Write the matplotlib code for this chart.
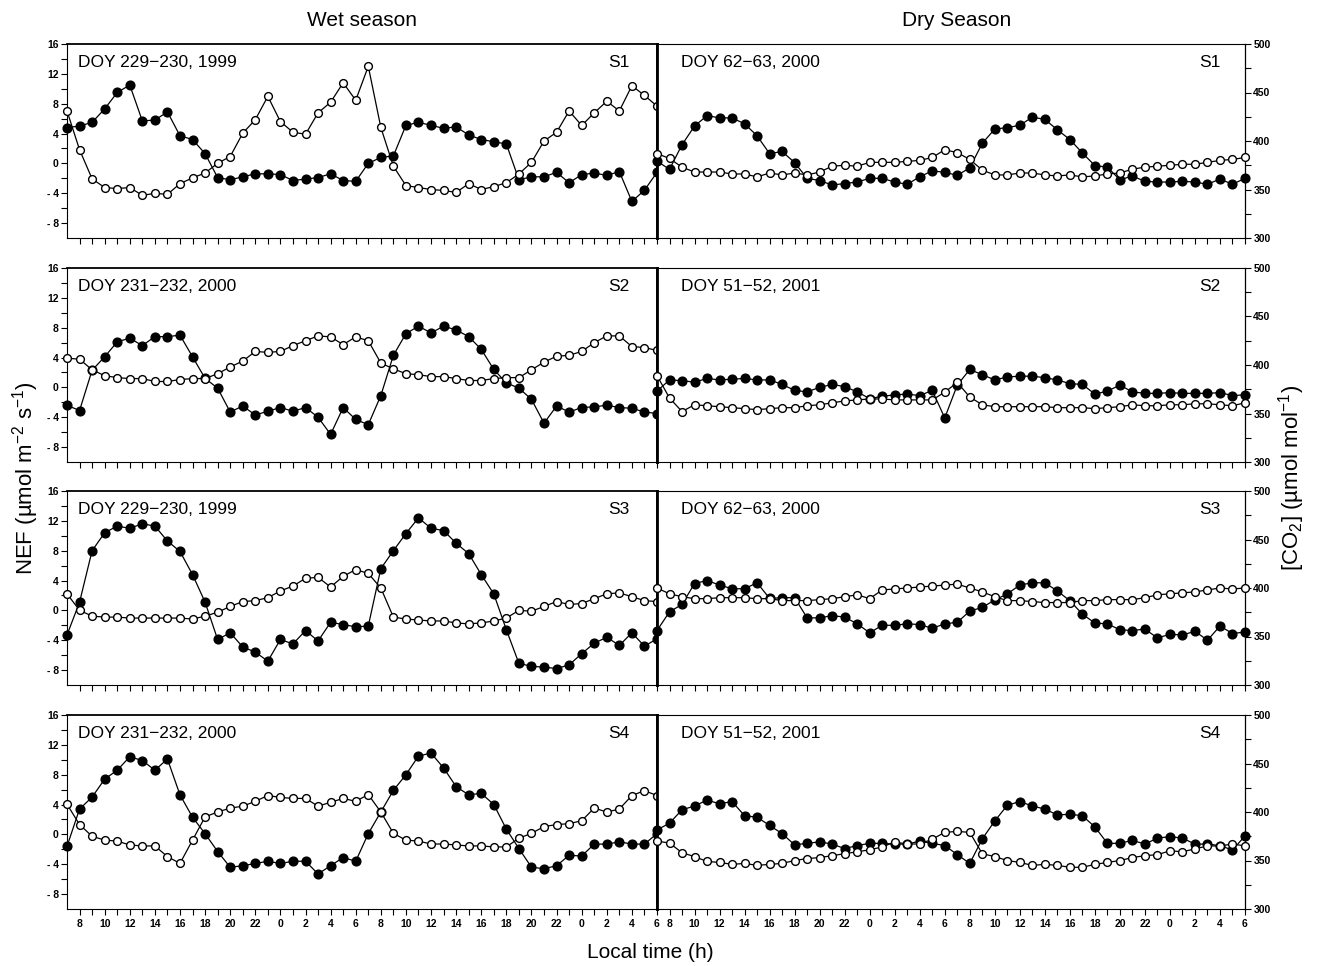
import numpy as np
import matplotlib
matplotlib.use("Agg")
import matplotlib.pyplot as plt
from matplotlib.ticker import FixedLocator, FuncFormatter

plt.rcParams['font.family'] = ['Liberation Sans', 'DejaVu Sans']
plt.rcParams['mathtext.fontset'] = 'custom'
plt.rcParams['mathtext.rm'] = 'Liberation Sans'
plt.rcParams['mathtext.it'] = 'Liberation Sans:italic'

# hourly values, local time 07:00 day 1 .. 06:00 day 3 (hour 7..54)
hours = np.arange(7, 55)

# ---------------------------------------------------------------------------
# data: filled = NEF (umol m-2 s-1), open = [CO2] (umol mol-1)
# ---------------------------------------------------------------------------
wet_nef_s1 = [4.8, 5.0, 5.5, 7.3, 9.5, 10.5, 5.7, 5.8, 6.9, 3.7, 3.2, 1.3, -1.9, -2.2, -1.8, -1.4,
              -1.4, -1.5, -2.3, -2.1, -1.9, -1.4, -2.3, -2.4, 0.0, 0.8, 1.0, 5.1, 5.5, 5.1, 4.7, 4.9,
              3.8, 3.2, 2.9, 2.6, -2.2, -1.8, -1.8, -1.2, -2.6, -1.5, -1.3, -1.6, -1.1, -5.1, -3.6, -1.2]
wet_co2_s1 = [431, 391, 361, 352, 351, 352, 344, 346, 345, 356, 362, 367, 377, 384, 408, 422,
              446, 420, 409, 407, 429, 440, 460, 442, 477, 414, 374, 354, 352, 350, 349, 347,
              356, 350, 353, 357, 366, 378, 400, 409, 431, 416, 429, 441, 431, 457, 447, 436]
dry_nef_s1 = [0.3, -0.8, 2.5, 5.0, 6.4, 6.1, 6.1, 5.3, 3.7, 1.3, 1.6, 0.1, -2.0, -2.3, -2.9, -2.7,
              -2.5, -2.0, -2.0, -2.5, -2.8, -1.8, -1.0, -1.2, -1.6, -0.6, 2.7, 4.6, 4.8, 5.1, 6.2, 5.9,
              4.5, 3.2, 1.4, -0.3, -0.5, -2.2, -1.7, -2.4, -2.5, -2.5, -2.4, -2.5, -2.8, -2.1, -2.8, -2.0]
dry_co2_s1 = [387, 382, 373, 368, 368, 368, 366, 366, 363, 367, 365, 367, 365, 368, 374, 375,
              374, 378, 378, 378, 379, 380, 383, 391, 388, 381, 370, 365, 365, 367, 367, 365,
              364, 365, 363, 364, 366, 367, 371, 373, 374, 375, 376, 376, 378, 380, 381, 383]

wet_nef_s2 = [-2.4, -3.1, 2.3, 4.1, 6.1, 6.6, 5.6, 6.8, 6.8, 7.0, 4.1, 1.2, -0.1, -3.3, -2.5, -3.7,
              -3.2, -2.7, -3.2, -2.7, -4.0, -6.3, -2.7, -4.3, -5.0, -1.1, 4.3, 7.2, 8.2, 7.3, 8.2, 7.7,
              6.8, 5.1, 2.4, 0.6, -0.1, -1.6, -4.8, -2.5, -3.3, -2.7, -2.6, -2.4, -2.7, -2.8, -3.3, -3.5]
wet_co2_s2 = [407, 406, 395, 389, 387, 386, 386, 383, 383, 385, 386, 386, 391, 398, 404, 414,
              413, 414, 420, 425, 430, 429, 421, 429, 425, 402, 396, 391, 390, 388, 388, 386,
              384, 384, 386, 387, 387, 395, 403, 409, 410, 414, 423, 430, 430, 419, 418, 415]
dry_nef_s2 = [-0.5, 1.0, 0.9, 0.7, 1.2, 1.0, 1.1, 1.2, 1.0, 1.0, 0.4, -0.4, -0.6, 0.0, 0.4, 0.1,
              -0.6, -1.5, -1.2, -1.0, -0.9, -1.1, -0.4, -4.1, 0.3, 2.4, 1.7, 1.0, 1.4, 1.5, 1.5, 1.3,
              1.0, 0.5, 0.4, -0.9, -0.5, 0.3, -0.6, -0.8, -0.8, -0.7, -0.8, -0.8, -0.8, -0.7, -1.1, -1.0]
dry_co2_s2 = [389, 366, 352, 359, 358, 357, 356, 355, 354, 355, 356, 356, 358, 359, 361, 363,
              364, 365, 365, 364, 364, 364, 364, 372, 382, 367, 359, 357, 357, 357, 357, 357,
              356, 356, 356, 355, 356, 357, 359, 358, 358, 359, 359, 360, 360, 359, 358, 361]

wet_nef_s3 = [-3.3, 1.1, 8.0, 10.4, 11.3, 11.0, 11.6, 11.3, 9.3, 7.9, 4.8, 1.1, -3.9, -3.0, -4.9, -5.6,
              -6.8, -3.9, -4.5, -2.7, -4.1, -1.6, -1.9, -2.2, -2.1, 5.6, 8.0, 10.3, 12.4, 11.0, 10.7, 9.0,
              7.6, 4.8, 2.2, -2.6, -7.1, -7.5, -7.6, -7.8, -7.3, -5.8, -4.4, -3.6, -4.7, -3.0, -4.8, -3.8]
wet_co2_s3 = [394, 377, 371, 370, 370, 369, 369, 369, 369, 369, 368, 371, 375, 381, 386, 387,
              390, 397, 402, 410, 411, 401, 412, 419, 415, 400, 370, 368, 367, 366, 366, 364,
              363, 364, 366, 369, 377, 376, 381, 386, 383, 384, 389, 394, 395, 391, 387, 386]
dry_nef_s3 = [-2.7, -0.2, 0.8, 3.6, 4.0, 3.4, 2.9, 2.9, 3.7, 1.6, 1.7, 1.7, -1.0, -1.0, -0.7, -0.9,
              -1.8, -3.0, -2.0, -2.0, -1.8, -1.9, -2.4, -1.8, -1.6, -0.1, 0.4, 1.4, 2.2, 3.4, 3.7, 3.7,
              2.6, 1.3, -0.5, -1.7, -1.8, -2.6, -2.7, -2.5, -3.7, -3.2, -3.3, -2.8, -4.0, -2.1, -3.1, -2.9]
dry_co2_s3 = [400, 394, 391, 389, 389, 390, 390, 390, 389, 389, 387, 387, 387, 388, 389, 391,
              393, 389, 398, 399, 400, 401, 402, 403, 404, 400, 396, 391, 387, 387, 386, 385,
              385, 385, 387, 387, 388, 388, 388, 390, 393, 394, 395, 396, 398, 400, 399, 400]

wet_nef_s4 = [-1.6, 3.4, 5.0, 7.4, 8.6, 10.4, 9.9, 8.6, 10.1, 5.3, 2.3, 0.1, -2.3, -4.4, -4.2, -3.9,
              -3.6, -3.9, -3.6, -3.6, -5.3, -4.2, -3.1, -3.6, 0.1, 3.0, 5.9, 8.0, 10.5, 10.9, 8.9, 6.4,
              5.3, 5.5, 4.0, 0.7, -1.9, -4.4, -4.6, -4.2, -2.8, -2.9, -1.3, -1.3, -1.0, -1.3, -1.3, 0.1]
wet_co2_s4 = [408, 387, 375, 371, 370, 366, 365, 365, 354, 347, 371, 395, 400, 404, 406, 411,
              417, 415, 414, 414, 406, 410, 414, 411, 418, 400, 378, 371, 370, 367, 367, 366,
              365, 365, 364, 364, 373, 378, 385, 387, 388, 391, 404, 400, 403, 417, 422, 417]
dry_nef_s4 = [0.6, 1.5, 3.3, 3.8, 4.6, 4.1, 4.4, 2.5, 2.3, 1.2, 0.1, -1.4, -1.2, -1.0, -1.3, -1.9,
              -1.5, -1.2, -1.2, -1.3, -1.3, -0.9, -1.2, -1.5, -2.7, -3.9, -0.6, 1.8, 3.9, 4.4, 3.8, 3.4,
              2.6, 2.7, 2.5, 1.0, -1.2, -1.2, -0.8, -1.3, -0.5, -0.3, -0.5, -1.3, -1.3, -1.5, -2.1, -0.2]
dry_co2_s4 = [370, 368, 358, 354, 349, 348, 346, 347, 345, 346, 347, 350, 352, 353, 355, 357,
              359, 361, 364, 369, 367, 367, 372, 379, 380, 379, 357, 354, 350, 348, 345, 346,
              345, 343, 343, 346, 348, 350, 353, 355, 356, 360, 359, 362, 365, 365, 367, 365]

sites = ["S1", "S2", "S3", "S4"]
wet_doy = ["DOY 229\u2212230, 1999", "DOY 231\u2212232, 2000", "DOY 229\u2212230, 1999", "DOY 231\u2212232, 2000"]
dry_doy = ["DOY 62\u221263, 2000", "DOY 51\u221252, 2001", "DOY 62\u221263, 2000", "DOY 51\u221252, 2001"]
wet_nef = [wet_nef_s1, wet_nef_s2, wet_nef_s3, wet_nef_s4]
wet_co2 = [wet_co2_s1, wet_co2_s2, wet_co2_s3, wet_co2_s4]
dry_nef = [dry_nef_s1, dry_nef_s2, dry_nef_s3, dry_nef_s4]
dry_co2 = [dry_co2_s1, dry_co2_s2, dry_co2_s3, dry_co2_s4]

nef_ticks = [-8, -4, 0, 4, 8, 12, 16]
co2_ticks = [300, 350, 400, 450, 500]
x_ticks = np.arange(8, 55)

# ---------------------------------------------------------------------------
W, H = 1317, 966
fig = plt.figure(figsize=(W / 100, H / 100), dpi=100)

col_x = [(67, 657), (657, 1245)]
row_top = [44, 268, 491, 715]
row_h = 194

TICKFONT = dict(fontsize=7.5, fontweight="bold")


def hour_label(v, pos):
    v = int(round(v))
    return str(v % 24) if v % 2 == 0 else ""


def nef_label(v, pos):
    v = int(round(v))
    return f"- {abs(v)}" if v < 0 else str(v)


for r in range(4):
    for c in range(2):
        x0, x1 = col_x[c]
        rect = [x0 / W, 1 - (row_top[r] + row_h) / H, (x1 - x0) / W, row_h / H]
        ax = fig.add_axes(rect)
        ax2 = ax.twinx()
        nef = wet_nef[r] if c == 0 else dry_nef[r]
        co2 = wet_co2[r] if c == 0 else dry_co2[r]

        ax.plot(hours, nef, "-o", color="black", lw=0.9, ms=6.3,
                mfc="black", mec="black", clip_on=False, zorder=3)
        ax2.plot(hours, co2, "-o", color="black", lw=0.9, ms=5.6,
                 mfc="white", mec="black", mew=1.0, clip_on=False, zorder=4)

        ax.set_xlim(7, 54)
        ax.set_ylim(-10, 16)
        ax2.set_ylim(300, 500)

        ax.xaxis.set_major_locator(FixedLocator(x_ticks))
        ax.xaxis.set_major_formatter(FuncFormatter(hour_label))
        ax.tick_params(axis="x", direction="out", length=4, width=0.8, pad=3,
                       labelbottom=(r == 3), labelsize=7.5)
        for t in ax.get_xticklabels():
            t.set_fontweight("bold")

        for sp in ax2.spines.values():
            sp.set_visible(False)

        if c == 0:
            ax.yaxis.set_major_locator(FixedLocator(nef_ticks))
            ax.yaxis.set_minor_locator(FixedLocator([-6, -2, 2, 6, 10, 14]))
            ax.yaxis.set_major_formatter(FuncFormatter(nef_label))
            ax.tick_params(axis="y", which="both", direction="out", length=4,
                           width=0.8, labelsize=7.5, pad=2)
            for t in ax.get_yticklabels():
                t.set_fontweight("bold")
            ax2.set_yticks([])
            ax.spines["right"].set_linewidth(2.0)
            ax.spines["top"].set_linewidth(1.3)
            ax.text(0.019, 0.905, wet_doy[r], transform=ax.transAxes,
                    fontsize=12.5, va="center", ha="left")
            ax.text(0.953, 0.905, sites[r], transform=ax.transAxes,
                    fontsize=12.5, va="center", ha="right")
        else:
            ax.set_yticks([])
            ax.spines["left"].set_linewidth(2.0)
            ax.spines["right"].set_linewidth(0.9)
            ax2.yaxis.set_major_locator(FixedLocator(co2_ticks))
            ax2.yaxis.set_minor_locator(FixedLocator([325, 375, 425, 475]))
            ax2.tick_params(axis="y", which="both", direction="out", length=4,
                            width=0.8, labelsize=7.5, pad=2)
            for t in ax2.get_yticklabels():
                t.set_fontweight("bold")
            ax.text(0.041, 0.905, dry_doy[r], transform=ax.transAxes,
                    fontsize=12.5, va="center", ha="left")
            ax.text(0.958, 0.905, sites[r], transform=ax.transAxes,
                    fontsize=12.5, va="center", ha="right")

fig.text(362 / W, 1 - 21 / H, "Wet season", fontsize=15, ha="center", va="center")
fig.text(957 / W, 1 - 21 / H, "Dry Season", fontsize=15, ha="center", va="center")
fig.text(650 / W, 1 - 953 / H, "Local time (h)", fontsize=15, ha="center", va="center")
fig.text(26 / W, 1 - 478 / H, "NEF (\u00b5mol m$^{-2}$ s$^{-1}$)", fontsize=16,
         rotation=90, ha="center", va="center")
fig.text(1292 / W, 1 - 478 / H, "[CO$_2$] (\u00b5mol mol$^{-1}$)", fontsize=16,
         rotation=90, ha="center", va="center")

fig.savefig("out.png", dpi=100)
